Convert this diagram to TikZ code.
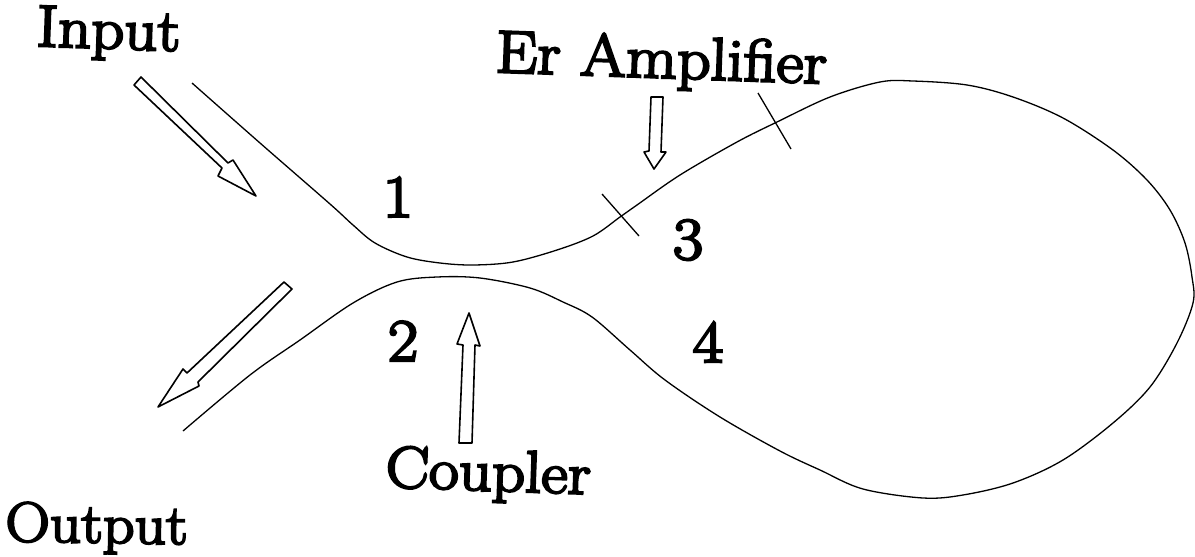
\documentclass[tikz,border=0pt]{standalone}
\usepackage{fontspec}
\newfontfamily\labfont[FakeBold=4,FakeStretch=1.1]{Latin Modern Roman}
\tikzset{
  fibre/.style={line width=1.3pt,black,line join=round},
  hollow/.style={line width=1.6pt,black,fill=white,line join=round},
  lab/.style={inner sep=0pt,anchor=base west,rotate=-2,font=\labfont\fontsize{59}{59}\selectfont},
  num/.style={inner sep=0pt,font=\labfont\fontsize{60}{60}\selectfont}
}
\begin{document}
\begin{tikzpicture}[x=1pt,y=-1pt]
\useasboundingbox (0,0) rectangle (1195,557);
% fibre loop
\draw[fibre] plot[smooth,tension=0.55] coordinates {
  (192,83) (260,143) (330,204) (353,225) (375,243) (407,257) (440,263) (473,265) (513,262) (557,250) (593,236)
  (620,217) (637,205) (680,175) (737,142) (777,122) (830,97) (880,82) (913,81) (967,85)
  (1013,97) (1063,118) (1113,150) (1147,180) (1170,210) (1185,243) (1192,277) (1193,303)
  (1177,343) (1150,387) (1113,423) (1063,460) (1013,483) (963,495) (923,498) (863,489)
  (820,470) (780,451) (720,417) (665,380) (630,350) (592,317) (563,302) (530,288) (480,278)
  (437,277) (397,282) (353,303) (300,340) (250,375) (183,431)};
% splice ticks
\draw[fibre] (602,194) -- (639,236);
\draw[fibre] (758,93) -- (791,149);
% hollow arrows
\draw[hollow] (134,85) -- (141,77) -- (228,163) -- (233,160) -- (256,196) -- (218,176) -- (222,168) -- cycle;
\draw[hollow] (284,282) -- (292,289) -- (198,382) -- (199,386) -- (158,407) -- (183,369) -- (187,373) -- cycle;
\draw[hollow] (469,313) -- (480,346) -- (475,345) -- (472,443) -- (459,443) -- (463,345) -- (457,344) -- cycle;
\draw[hollow] (651,97) -- (663,97) -- (661,152) -- (666,152) -- (654,169) -- (644,152) -- (649,151) -- cycle;
% labels
\node[lab] (input) at (36,46) {Input};
\node[lab,font=\labfont\fontsize{60}{60}\selectfont] (er) at (495,72) {Er Amplifier};
\node[lab] (coupler) at (385,487) {Coupler};
\node[lab,rotate=1,font=\labfont\fontsize{56}{56}\selectfont] (output) at (5,541) {Output};
\node[num] (n1) at (398,197) {1};
\node[num] (n2) at (403,341) {2};
\node[num] (n3) at (688,240) {3};
\node[num] (n4) at (708,342) {4};
\end{tikzpicture}
\end{document}
